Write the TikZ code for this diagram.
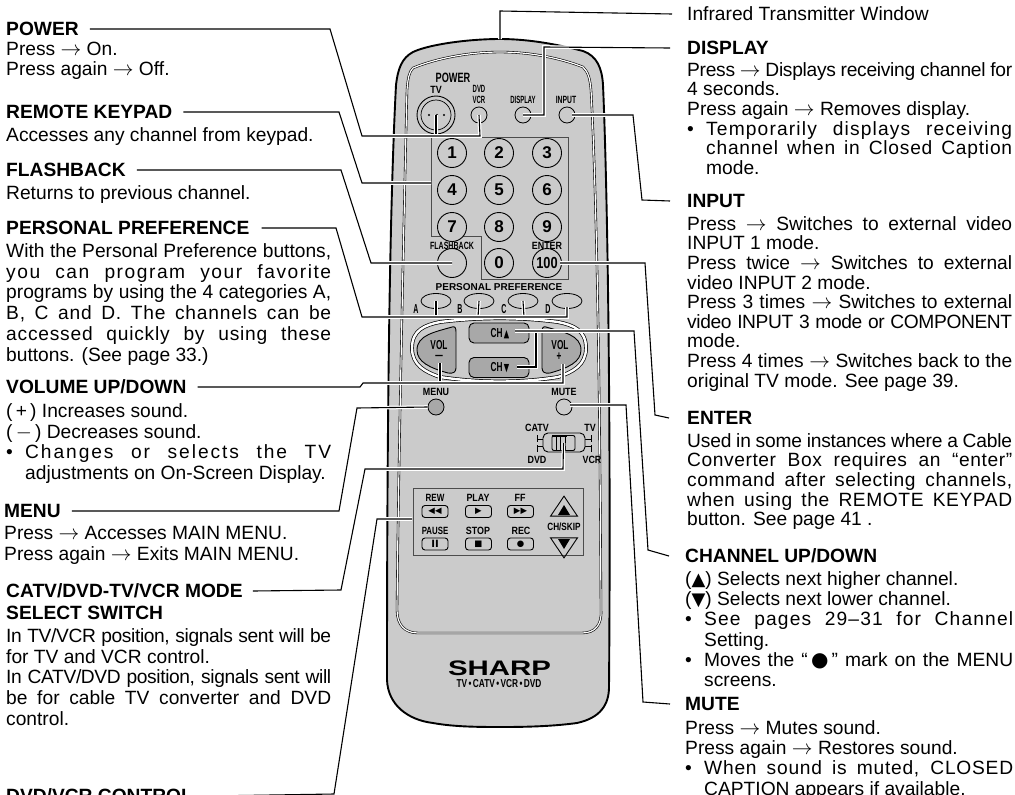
\documentclass[tikz,border=0pt]{standalone}
\usepackage{fontspec}
\setmainfont{Liberation Sans}
\newfontfamily\symfont{DejaVu Sans}
\usetikzlibrary{shapes.geometric}
\definecolor{remote}{RGB}{203,203,203}
\definecolor{keydark}{RGB}{168,168,168}
\newcommand{\ls}[2]{{\addfontfeature{LetterSpace=#1}#2}}
\newcommand{\bul}{\par\hangindent=19pt\hangafter=1\noindent\hbox to 19pt{\textbullet\hfil}}
\newcommand{\fst}{\tolerance=10000 \hyphenpenalty=10000 \emergencystretch=20pt \leavevmode\vrule width 0pt height 14pt\relax}
\tikzset{
  head/.style={anchor=west,inner sep=0pt,font=\bfseries\fontsize{19.2}{20}\selectfont},
  body/.style={anchor=north west,inner sep=0pt,text width=325pt,align=justify,font=\fontsize{19.2}{20.8}\selectfont},
  bodyr/.style={body,font=\fontsize{19.2}{19.6}\selectfont},
  bodyl/.style={body,text width=328pt,font=\fontsize{19.2}{20.3}\selectfont},
  leader/.style={draw=black,line width=1.1pt,preaction={draw=white,line width=3.6pt}},
  rlab/.style={inner sep=0pt,font=\bfseries\fontsize{10.5}{10.5}\selectfont,xscale=.85,transform shape},
  vlab/.style={rlab,font=\bfseries\fontsize{13}{13}\selectfont,xscale=.75},
  numkey/.style={circle,draw=black,line width=.9pt,fill=remote,minimum size=29pt,inner sep=0pt,font=\bfseries\fontsize{17}{17}\selectfont},
  roundbtn/.style={circle,draw=black,line width=.8pt,fill=remote,minimum size=16pt,inner sep=0pt},
  prefbtn/.style={ellipse,draw=black,line width=.8pt,fill=remote,minimum width=30pt,minimum height=15pt,inner sep=0pt},
  chbtn/.style={rectangle,rounded corners=5pt,draw=black,line width=.9pt,fill=keydark,minimum width=60pt,minimum height=20pt,inner sep=0pt},
  tbtn/.style={rectangle,rounded corners=3pt,draw=black,line width=.9pt,fill=remote,minimum width=26pt,minimum height=12pt,inner sep=0pt,font=\symfont\fontsize{8.5}{8.5}\selectfont},
  panel/.style={draw=black!70,line width=.8pt,fill=remote}
}
\begin{document}
\begin{tikzpicture}[x=1pt,y=-1pt]
    \useasboundingbox (0,0) rectangle (1015,795);
    \filldraw[fill=remote,draw=black,line width=1.9pt] (500,39) .. controls (470,39) and (430,44) .. (413,52) .. controls (402,58) and (398,68) .. (396,85) .. controls (390,200) and (387,400) .. (387,680) .. controls (388,705) and (408,720) .. (433,723) .. controls (455,727) and (480,727) .. (503,727) .. controls (530,727) and (555,726) .. (577,723) .. controls (600,718) and (609,705) .. (609,687) .. controls (611,450) and (608,200) .. (603,85) .. controls (602,68) and (597,56) .. (583,51) .. controls (560,45) and (530,39) .. (500,39) -- cycle;
    \draw[double=white,double distance=1.2pt,line width=.6pt] (500,52) .. controls (470,52) and (437,58) .. (413,68) .. controls (409,72) and (408,78) .. (407,90) .. controls (402,300) and (398,500) .. (397,610) .. controls (397,625) and (405,633) .. (418,633) -- (582,633) .. controls (595,633) and (602,625) .. (601,610) .. controls (600,400) and (597,200) .. (591,90) .. controls (590,78) and (588,72) .. (583,67) .. controls (560,58) and (530,52) .. (500,52) -- cycle;
    \filldraw[panel] (431,137) -- (568,137) -- (568,279) -- (481,279) -- (481,236) -- (431,236) -- cycle;
    \node[rlab,font=\bfseries\fontsize{13.5}{13.5}\selectfont,xscale=.8] (lpower) at (453,78) {POWER};
    \node[rlab] (ltv) at (436,90) {TV};
    \node[rlab,xscale=.67] (ldvd) at (479,89) {DVD};
    \node[rlab,xscale=.67] (lvcr) at (479,100) {VCR};
    \node[rlab,xscale=.67] (ldisplay) at (523,100) {DISPLAY};
    \node[rlab,xscale=.76] (linput) at (566,100) {INPUT};
    \node[circle,draw=black,line width=.9pt,fill=remote,minimum size=38pt] (btntv) at (436,115) {};
    \node[circle,draw=black,line width=.7pt,minimum size=30pt] (btntvin) at (436,115) {};
    \foreach \x in {429,437,444} \fill (\x,115) circle (1.2);
    \node[roundbtn] (btnvcr) at (479,115) {};
    \node[roundbtn] (btndisplay) at (523,115) {};
    \node[roundbtn] (btninput) at (567,115) {};
    \node[numkey] (k1) at (452,153) {1};
    \node[numkey] (k2) at (499,153) {2};
    \node[numkey] (k3) at (547,153) {3};
    \node[numkey] (k4) at (452,190) {4};
    \node[numkey] (k5) at (499,190) {5};
    \node[numkey] (k6) at (547,190) {6};
    \node[numkey] (k7) at (452,227) {7};
    \node[numkey] (k8) at (499,227) {8};
    \node[numkey] (k9) at (547,227) {9};
    \node[numkey] (k0) at (499,263) {0};
    \node[numkey] (btnflash) at (452,263) {};
    \node[numkey,font=\bfseries\fontsize{16}{16}\selectfont] (btnenter) at (547,263) {\scalebox{.8}[1]{100}};
    \node[rlab,xscale=.79] (lflash) at (452,246) {FLASHBACK};
    \node[rlab] (lenter) at (547,246) {ENTER};
    \node[inner sep=0pt,font=\bfseries\fontsize{10}{10}\selectfont] (lpref) at (499,287) {PERSONAL PREFERENCE};
    \node[vlab,xscale=.85] (la) at (416,309) {A};
    \node[vlab,xscale=.85] (lb) at (460,309) {B};
    \node[vlab,xscale=.85] (lc) at (504,309) {C};
    \node[vlab,xscale=.85] (ld) at (548,309) {D};
    \node[prefbtn] (pa) at (436,301) {};
    \node[prefbtn] (pb) at (479,301) {};
    \node[prefbtn] (pc) at (523,301) {};
    \node[prefbtn] (pd) at (567,301) {};
    \filldraw[fill=remote,draw=black,double=white,double distance=2.4pt,line width=.7pt] (412,348) .. controls (412,330) and (425,325) .. (440,322) .. controls (480,317) and (520,317) .. (558,322) .. controls (573,325) and (586,330) .. (586,348) .. controls (586,365) and (573,372) .. (558,377) .. controls (520,383) and (480,383) .. (440,377) .. controls (425,372) and (412,365) .. (412,348) -- cycle;
    \filldraw[fill=keydark,draw=black,line width=.9pt] (452,327) .. controls (435,332) and (417,335) .. (417,350) .. controls (417,362) and (430,368) .. (448,373) .. controls (453,374) and (456,372) .. (456,368) -- (456,332) .. controls (456,328) and (455,326) .. (452,327) -- cycle;
    \filldraw[fill=keydark,draw=black,line width=.9pt] (546,327) .. controls (563,332) and (581,335) .. (581,350) .. controls (581,362) and (568,368) .. (550,373) .. controls (545,374) and (542,372) .. (542,368) -- (542,332) .. controls (542,328) and (543,326) .. (546,327) -- cycle;
    \node[vlab] (lvolm) at (439,345) {VOL};
    \node[vlab] (lvolp) at (560,345) {VOL};
    \node[vlab,xscale=.9] (lminus) at (439,357) {---};
    \node[vlab] (lplus) at (559,357) {+};
    \coordinate (volm) at (440,363);
    \coordinate (volp) at (563,364);
    \node[chbtn] (chup) at (499,333) {};
    \node[chbtn] (chdn) at (499,367.5) {};
    \node[vlab] (lchup) at (500,334) {CH\,{\symfont\fontsize{11}{11}\selectfont▲}};
    \node[vlab] (lchdn) at (500,368) {CH\,{\symfont\fontsize{11}{11}\selectfont▼}};
    \node[rlab] (lmenu) at (436,392) {MENU};
    \node[rlab] (lmute) at (564,392) {MUTE};
    \node[roundbtn,fill=keydark] (btnmenu) at (436,407) {};
    \node[roundbtn] (btnmute) at (564,407) {};
    \node[rlab] (lcatv) at (537,428) {CATV};
    \node[rlab] (ldvd2) at (537,460) {DVD};
    \node[rlab] (ltv2) at (590,428) {TV};
    \node[rlab] (lvcr2) at (592,460) {VCR};
    \draw[line width=.8pt] (537,435) -- (537,442) (537,439) -- (543,439) (537,445) -- (537,452) (537,446) -- (543,446);
    \draw[line width=.8pt] (591,435) -- (591,442) (591,439) -- (585,439) (591,445) -- (591,452) (591,446) -- (585,446);
    \node[rectangle,rounded corners=5pt,draw=black,line width=.9pt,fill=remote,minimum width=42pt,minimum height=19pt] (swbody) at (564,442.5) {};
    \node[rectangle,rounded corners=2pt,draw=black,line width=.9pt,minimum width=23pt,minimum height=15pt] (swin) at (563.5,443) {};
    \draw[line width=2pt] (552,435.5) -- (567,435.5);
    \draw[line width=.8pt] (556,435) -- (556,450) (560,435) -- (560,450) (565,435) -- (565,450);
    \filldraw[panel] (413,488) rectangle (583,555);
    \node[rlab,xscale=.9] (lrew) at (435,498) {REW};
    \node[rlab] (lplay) at (478,498) {PLAY};
    \node[rlab] (lff) at (520,498) {FF};
    \node[rlab,xscale=.88] (lpause) at (435,531) {PAUSE};
    \node[rlab] (lstop) at (478,531) {STOP};
    \node[rlab] (lrec) at (521,531) {REC};
    \node[tbtn] (brew) at (435,511.5) {◀◀};
    \node[tbtn] (bplay) at (478.5,511.5) {▶};
    \node[tbtn] (bff) at (520.5,511.5) {▶▶};
    \node[tbtn] (bpause) at (435,544) {\bfseries\fontsize{10}{10}\selectfont II};
    \node[tbtn] (bstop) at (478.5,544) {■};
    \node[tbtn] (brec) at (520.5,544) {●};
    \node[rlab,xscale=.92] (lskip) at (564,527) {CH/SKIP};
    \node[isosceles triangle,isosceles triangle apex angle=68,shape border rotate=90,draw=black,line width=.9pt,minimum height=20pt,inner sep=0pt] (bskipup) at (564,509) {};
    \node[isosceles triangle,isosceles triangle apex angle=68,shape border rotate=-90,draw=black,line width=.9pt,minimum height=20pt,inner sep=0pt] (bskipdn) at (564,545) {};
    \fill (558,515) -- (570,515) -- (564,505) -- cycle;
    \fill (558,539) -- (570,539) -- (564,549) -- cycle;
    \node[inner sep=0pt,font=\bfseries\fontsize{21}{21}\selectfont,xscale=1.4,transform shape] (lsharp) at (499.5,668.5) {SHARP};
    \node[rlab,font=\bfseries\fontsize{11.5}{11.5}\selectfont,xscale=.85] (lbrand) at (499,684) {TV\,•\,CATV\,•\,VCR\,•\,DVD};

    \node[head] (hpower) at (6,29) {POWER};
    \node[body] (tpower) at (6,41) {\fst Press $\rightarrow$ On.\\Press again $\rightarrow$ Off.};
    \node[head] (hkeypad) at (6,112) {REMOTE KEYPAD};
    \node[body] (tkeypad) at (6,127) {\fst Accesses any channel from keypad.};
    \node[head] (hflash) at (6,170) {FLASHBACK};
    \node[body] (tflash) at (6,185) {\fst Returns to previous channel.};
    \node[head] (hpref) at (6,228) {PERSONAL PREFERENCE};
    \node[body] (tpref) at (6,243) {\fst With the Personal Preference buttons,\linebreak \ls{8}{you can program your favorite}\linebreak programs by using the 4 categories A,\linebreak \ls{4}{B, C and D. The channels can be}\linebreak \ls{4}{accessed quickly by using these}\linebreak buttons. (See page 33.)};
    \node[head] (hvol) at (6,387) {VOLUME UP/DOWN};
    \node[body] (tvol) at (6,403) {\fst (\,+\,) Increases sound.\\(\,$-$\,) Decreases sound.\bul\ls{10}{Changes or selects the TV}\linebreak adjustments on On-Screen Display.\par};
    \node[head] (hmenu) at (4,511) {MENU};
    \node[body] (tmenu) at (4,525) {\fst Press $\rightarrow$ Accesses MAIN MENU.\\Press again $\rightarrow$ Exits MAIN MENU.};
    \node[head] (hcatv) at (6,591) {CATV/DVD-TV/VCR MODE};
    \node[head] (hcatv2) at (6,613) {SELECT SWITCH};
    \node[body] (tcatv) at (6,628) {\fst\ls{-2}{In TV/VCR position, signals sent will be}\linebreak for TV and VCR control.\\\ls{-2}{In CATV/DVD position, signals sent will}\linebreak be for cable TV converter and DVD\linebreak control.};
    \node[head] (hdvd) at (6,796) {DVD/VCR CONTROL};

    \node[head,font=\fontsize{19.2}{20}\selectfont] (hir) at (687,14) {Infrared Transmitter Window};
    \node[head] (hdisplay) at (687,48) {DISPLAY};
    \node[bodyr] (tdisplay) at (687,62) {\fst\ls{-1.5}{Press $\rightarrow$ Displays receiving channel for}\linebreak 4 seconds.\\Press again $\rightarrow$ Removes display.\bul\ls{6}{Temporarily displays receiving}\linebreak \ls{4}{channel when in Closed Caption}\linebreak mode.\par};
    \node[head] (hinput) at (687,201) {INPUT};
    \node[bodyr] (tinput) at (687,216) {\fst Press $\rightarrow$ Switches to external video\linebreak INPUT 1 mode.\\Press twice $\rightarrow$ Switches to external\linebreak video INPUT 2 mode.\\Press 3 times $\rightarrow$ Switches to external\linebreak \ls{-2}{video INPUT 3 mode or COMPONENT}\linebreak mode.\\Press 4 times $\rightarrow$ Switches back to the\linebreak original TV mode. See page 39.};
    \node[head] (henter) at (687,418) {ENTER};
    \node[bodyr] (tenter) at (687,433) {\fst\ls{-1}{Used in some instances where a Cable}\linebreak \ls{3}{Converter Box requires an ``enter''}\linebreak \ls{3}{command after selecting channels,}\linebreak \ls{3}{when using the REMOTE KEYPAD}\linebreak button. See page 41 .};
    \node[head] (hchan) at (685,556) {CHANNEL UP/DOWN};
    \node[bodyl] (tchan) at (685,571) {\fst ({\symfont\fontsize{18}{18}\selectfont ▲}) Selects next higher channel.\\({\symfont\fontsize{18}{18}\selectfont ▼}) Selects next lower channel.\bul\ls{6}{See pages 29--31 for Channel}\linebreak Setting.\bul Moves the ``\,{\symfont\fontsize{20}{20}\selectfont ●}\,'' mark on the MENU\linebreak screens.\par};
    \node[head] (hmute) at (685,704) {MUTE};
    \node[bodyl] (tmute) at (685,720) {\fst Press $\rightarrow$ Mutes sound.\\Press again $\rightarrow$ Restores sound.\bul\ls{4}{When sound is muted, CLOSED}\linebreak CAPTION appears if available.\par};

    \draw[leader] (btntv.center) -- (436,136);
    \draw[leader] ([xshift=11pt]hpower.east) -- (330,29) -- (362,136) -- (480,136) -- (btnvcr.center);
    \draw[leader] ([xshift=11pt]hkeypad.east) -- (339,112) -- (362,183) -- (431,183);
    \draw[leader] ([xshift=11pt]hflash.east) -- (341,170) -- (371,263) -- (btnflash.center);
    \draw[leader] (pa.center) -- (436,317);
    \draw[leader] (pb.center) -- (478,317);
    \draw[leader] (pc.center) -- (524,317);
    \draw[leader] ([xshift=12pt]hpref.east) -- (336,228) -- (362,317) -- (567,317) -- (567,307);
    \draw[leader] (volm) -- (440,383);
    \draw[leader] ([xshift=11pt]hvol.east) -- (360,387) -- (363,383) -- (563,383) -- (volp);
    \draw[leader] ([xshift=11pt]hmenu.east) -- (339,511) -- (357,408) -- (btnmenu.west);
    \draw[leader] ([xshift=10pt]hcatv.east) -- (341,590) -- (365,469) -- (563,469) -- (swin.center);
    \draw[leader] ([xshift=17pt]hdvd.east) -- (334,794) -- (377,519) -- (412,519);
    \draw[leader] ([xshift=-15pt]hir.west) -- (500,11) -- (500,39);
    \draw[leader] ([xshift=-17pt]hdisplay.west) -- (544,47) -- (544,115) -- (btndisplay.center);
    \draw[leader] ([xshift=-17pt]hinput.west) -- (642,200) -- (633,115) -- (572,115);
    \draw[leader] ([xshift=-18pt]henter.west) -- (655,415) -- (645,263) -- (560,263);
    \draw[leader] (517,367) -- (536,367) -- (536,331);
    \draw[leader] ([xshift=-16pt]hchan.west) -- (648,550) -- (634,331) -- (515,331);
    \draw[leader] ([xshift=-15pt]hmute.west) -- (643,702) -- (626,405) -- (570,405);
\end{tikzpicture}
\end{document}
